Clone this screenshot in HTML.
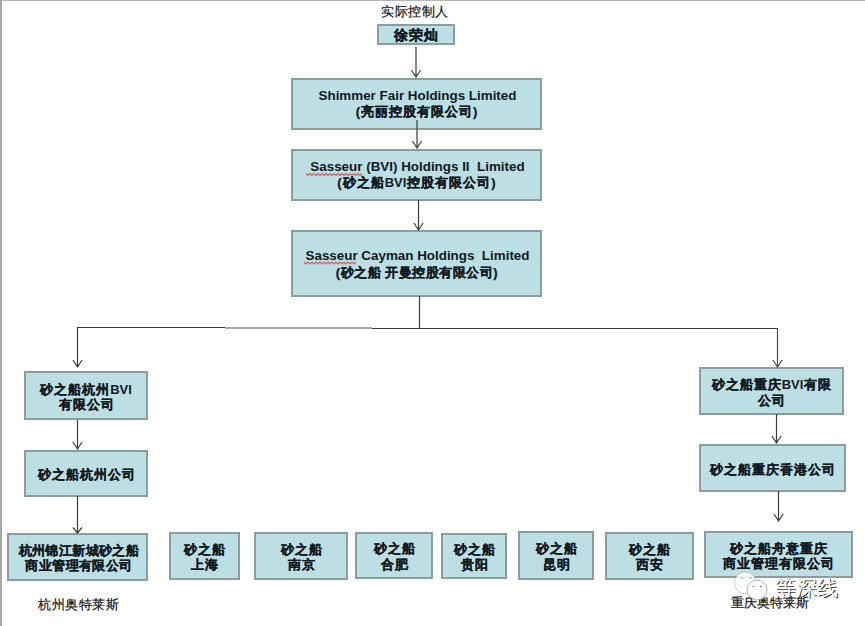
<!DOCTYPE html>
<html><head><meta charset="utf-8">
<style>
html,body{margin:0;padding:0;background:#fff;}
body{width:865px;height:626px;position:relative;overflow:hidden;font-family:"Liberation Sans",sans-serif;color:#111a22;}
.frame-t{position:absolute;left:0;top:0;width:865px;height:1px;background:#b4b4b4;}
.frame-l{position:absolute;left:0;top:0;width:2px;height:626px;background:#a8a8a8;}
.b{position:absolute;box-sizing:border-box;border:2px solid #8a9e9f;background:#bbdfe3;display:flex;flex-direction:column;align-items:center;justify-content:center;font-weight:bold;-webkit-text-stroke:0.25px #111a22;font-size:13px;letter-spacing:1px;padding-left:1px;line-height:15.5px;padding-top:3px;text-align:center;white-space:nowrap;}
.v{letter-spacing:0;-webkit-text-stroke:0;margin-right:1px;}
.en{font-size:13.4px;-webkit-text-stroke:0;letter-spacing:0;margin-right:-1px;}
.e{line-height:16.5px;padding-top:0;}
.lbl{position:absolute;font-size:13px;letter-spacing:0.5px;line-height:15px;white-space:nowrap;color:#111;-webkit-text-stroke:0.2px #111;}
svg{position:absolute;left:0;top:0;}
.wm{position:absolute;left:775px;top:576.5px;font-size:21px;line-height:22px;color:#fff;text-shadow:1px 1px 0 rgba(40,40,40,0.95);white-space:nowrap;}
</style></head><body>
<div class="frame-t"></div>
<div class="frame-l"></div>

<div class="lbl" style="left:381px;top:4px;">实际控制人</div>

<div class="b" style="left:377px;top:24px;width:78px;height:21px;font-size:14px;">徐荣灿</div>

<div class="b e" style="left:291px;top:78px;width:251px;height:52px;"><div class="en">Shimmer Fair Holdings Limited</div><div>(亮丽控股有限公司)</div></div>

<div class="b e" style="left:291px;top:149px;width:251px;height:52px;"><div class="en">Sasseur (BVI) Holdings II&nbsp; Limited</div><div>(砂之船<span class="v">BVI</span>控股有限公司)</div></div>

<div class="b e" style="left:291px;top:230px;width:251px;height:67px;padding-top:1px;line-height:17px;"><div class="en">Sasseur Cayman Holdings&nbsp; Limited</div><div style="letter-spacing:0.5px">(砂之船 开曼控股有限公司)</div></div>

<div class="b" style="left:24px;top:371px;width:124px;height:49px;"><div>砂之船杭州<span class="v">BVI</span></div><div>有限公司</div></div>
<div class="b" style="left:24px;top:450px;width:124px;height:46.5px;"><div>砂之船杭州公司</div></div>
<div class="b" style="left:7px;top:533px;width:141px;height:47.5px;font-size:13px;letter-spacing:0.4px;padding-left:3px;"><div>杭州锦江新城砂之船</div><div>商业管理有限公司</div></div>

<div class="b" style="left:169px;top:532px;width:71px;height:47.5px;"><div>砂之船</div><div>上海</div></div>
<div class="b" style="left:254px;top:532px;width:94px;height:47.5px;"><div>砂之船</div><div>南京</div></div>
<div class="b" style="left:355px;top:532px;width:78px;height:46.5px;"><div>砂之船</div><div>合肥</div></div>
<div class="b" style="left:441px;top:533px;width:66px;height:45.5px;"><div>砂之船</div><div>贵阳</div></div>
<div class="b" style="left:518px;top:531px;width:76px;height:48.5px;"><div>砂之船</div><div>昆明</div></div>
<div class="b" style="left:605px;top:532px;width:89px;height:47.5px;"><div>砂之船</div><div>西安</div></div>
<div class="b" style="left:704px;top:531px;width:149px;height:47px;"><div>砂之船舟意重庆</div><div>商业管理有限公司</div></div>

<div class="b" style="left:699px;top:367px;width:145px;height:48px;"><div>砂之船重庆<span class="v">BVI</span>有限</div><div>公司</div></div>
<div class="b" style="left:699px;top:444px;width:147px;height:48px;"><div>砂之船重庆香港公司</div></div>

<div class="lbl" style="left:38px;top:596.5px;">杭州奥特莱斯</div>
<div class="lbl" style="left:731px;top:594.5px;letter-spacing:0;">重庆奥特莱斯</div>

<svg width="865" height="626" viewBox="0 0 865 626">
<g stroke="#3a3a3a" stroke-width="1.2" fill="none">
<path d="M416 47V77M411.4 70L416 77L420.6 70" stroke="#4a4a4a" stroke-width="1.3"/>
<path d="M417 120V148M412.4 141L417 148L421.6 141" stroke="#4a4a4a" stroke-width="1.3"/>
<path d="M418.5 200V230M413.9 223L418.5 230L423.1 223"/>
<path d="M419.5 296V328"/>
<path d="M77.5 327.5H225"/>
<path d="M225 328H372" stroke="#555" stroke-width="1.2"/>
<path d="M372 328.5H778"/>
<path d="M77.5 327V367M72.9 360L77.5 367L82.1 360"/>
<path d="M777.5 328V367M772.9 360L777.5 367L782.1 360" stroke="#4a4a4a"/>
<path d="M77.5 420V449M72.9 442L77.5 449L82.1 442"/>
<path d="M77.5 496V533M73 527.5L77.5 533L82 527.5"/>
<path d="M776.5 414V443M771.9 436L776.5 443L781.1 436"/>
<path d="M778.5 491V521M773.9 514L778.5 521L783.1 514"/>
</g>
<g stroke="#e0404e" stroke-width="1.1" fill="none" opacity="0.85">
<polyline points="306.0,173.5 308.0,175.5 310.0,173.5 312.0,175.5 314.0,173.5 316.0,175.5 318.0,173.5 320.0,175.5 322.0,173.5 324.0,175.5 326.0,173.5 328.0,175.5 330.0,173.5 332.0,175.5 334.0,173.5 336.0,175.5 338.0,173.5 340.0,175.5 342.0,173.5 344.0,175.5 346.0,173.5 348.0,175.5 350.0,173.5 352.0,175.5 354.0,173.5 356.0,175.5 358.0,173.5 360.0,175.5 362.0,173.5"/>
<polyline points="304.0,262.0 306.0,264.0 308.0,262.0 310.0,264.0 312.0,262.0 314.0,264.0 316.0,262.0 318.0,264.0 320.0,262.0 322.0,264.0 324.0,262.0 326.0,264.0 328.0,262.0 330.0,264.0 332.0,262.0 334.0,264.0 336.0,262.0 338.0,264.0 340.0,262.0 342.0,264.0 344.0,262.0 346.0,264.0 348.0,262.0 350.0,264.0 352.0,262.0 354.0,264.0 356.0,262.0"/>
</g>
<g>
<circle cx="745.5" cy="583" r="11" fill="#fff" fill-opacity="0.85" stroke="#9a9a9a" stroke-width="0.8" stroke-opacity="0.6"/>
<path d="M741 578.5l1 -1l1 1M749.5 578.5l1 -1l1 1" stroke="#666" stroke-width="0.9" fill="none"/>
<circle cx="757" cy="590" r="10" fill="#fff" fill-opacity="0.92" stroke="#888" stroke-width="0.9" stroke-opacity="0.7"/>
<path d="M752.5 587l1 -1l1 1M760 587l1 -1l1 1" stroke="#666" stroke-width="0.9" fill="none"/>
</g>
</svg>
<div class="wm">等深线</div>
</body></html>
